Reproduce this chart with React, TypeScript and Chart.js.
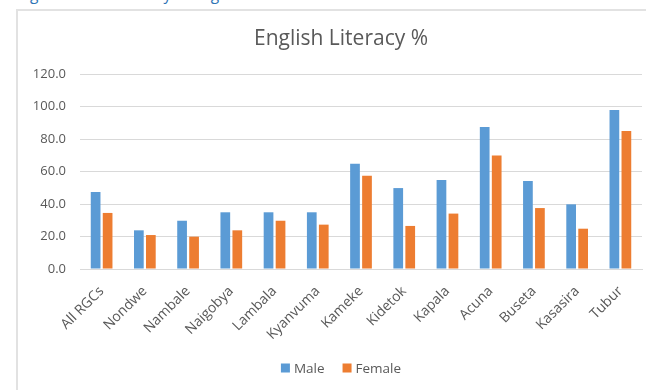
import React, { useEffect, useRef } from "react";
import { Chart, registerables } from "chart.js";

Chart.register(...registerables);

const caption = "Figure 3.2 Ed Literacy in English across the RGCs";
const chartTitle = "English Literacy %";
const categories = [
  "All RGCs", "Nondwe", "Nambale", "Naigobya", "Lambala", "Kyanvuma", "Kameke",
  "Kidetok", "Kapala", "Acuna", "Buseta", "Kasasira", "Tubur",
];
const maleValues = [47.4, 23.8, 29.7, 34.9, 34.9, 34.9, 64.8, 49.8, 54.8, 87.4, 54.2, 39.8, 97.8];
const femaleValues = [34.5, 20.9, 19.9, 23.8, 29.7, 27.3, 57.4, 26.5, 34.1, 69.9, 37.5, 24.8, 84.9];
const yTicks = [0, 20, 40, 60, 80, 100, 120];
const seriesLabels = ["Male", "Female"];
const seriesColors = ["#5B9BD5", "#ED7D31"];

const FONT = "'Open Sans', 'Noto Sans', sans-serif";
const TEXT = "#595959";

const overlayPlugin = {
  id: "overlayTitleLegend",
  afterDraw(chart: any) {
    const ctx = chart.ctx as CanvasRenderingContext2D;
    const cx = chart.width / 2;
    ctx.save();
    ctx.fillStyle = TEXT;
    ctx.font = `21px ${FONT}`;
    ctx.textAlign = "center";
    ctx.textBaseline = "alphabetic";
    ctx.fillText(chartTitle, cx, 36);

    ctx.font = `13.5px ${FONT}`;
    const box = 9, gap = 4, spacing = 18;
    const items = chart.data.datasets.map((d: any) => ({
      label: d.label as string,
      color: d.backgroundColor as string,
      w: ctx.measureText(d.label).width,
    }));
    const total = items.reduce((s: number, it: any) => s + box + gap + it.w, 0) + spacing * (items.length - 1);
    let x = cx - total / 2;
    const y = 359;
    ctx.textAlign = "left";
    ctx.textBaseline = "middle";
    for (const it of items) {
      ctx.fillStyle = it.color;
      ctx.fillRect(x, y - box / 2, box, box);
      ctx.fillStyle = TEXT;
      ctx.fillText(it.label, x + box + gap, y + 1);
      x += box + gap + it.w + spacing;
    }
    ctx.restore();
  },
};

export default function App() {
  const ref = useRef<HTMLCanvasElement | null>(null);

  useEffect(() => {
    if (!ref.current) return;
    const chart = new Chart(ref.current, {
      type: "bar",
      data: {
        labels: categories,
        datasets: [
          { label: seriesLabels[0], data: maleValues, backgroundColor: seriesColors[0], categoryPercentage: 0.555, barPercentage: 0.81 },
          { label: seriesLabels[1], data: femaleValues, backgroundColor: seriesColors[1], categoryPercentage: 0.555, barPercentage: 0.81 },
        ],
      },
      options: {
        animation: false,
        responsive: false,
        maintainAspectRatio: false,
        layout: { padding: { left: 0, right: 23, top: 65, bottom: 51 } },
        plugins: {
          legend: { display: false },
          title: { display: false },
          tooltip: { enabled: false },
        },
        scales: {
          x: {
            grid: { display: false, drawTicks: false },
            border: { display: true, color: "#D9D9D9", width: 1 },
            ticks: {
              color: TEXT,
              font: { family: FONT, size: 14 },
              maxRotation: 45,
              minRotation: 45,
              padding: 14,
              autoSkip: false,
            },
            afterFit: (s: any) => { s.height = 70; },
          },
          y: {
            min: 0,
            max: 120,
            grid: { color: "#D9D9D9", lineWidth: 1, drawTicks: false },
            border: { display: false },
            ticks: {
              color: TEXT,
              font: { family: FONT, size: 13 },
              padding: 14,
              callback: (v: any) => Number(v).toFixed(1),
            },
            afterBuildTicks: (s: any) => { s.ticks = yTicks.map((v) => ({ value: v })); },
            afterFit: (s: any) => { s.width = 63; },
          },
        },
      },
      plugins: [overlayPlugin],
    });
    return () => chart.destroy();
  }, []);

  return (
    <div style={{ position: "fixed", left: 0, top: 0, width: 646, height: 390, overflow: "hidden", background: "#fff" }}>
      <div
        style={{
          position: "absolute", left: 18, top: -12.6, fontFamily: FONT, fontSize: 15.5,
          lineHeight: "15.5px", color: "#2E74B5", whiteSpace: "nowrap",
        }}
      >
        {caption}
      </div>
      <div
        style={{
          position: "absolute", left: 16, top: 9, width: 700, height: 400,
          borderLeft: "2px solid #E2E2E2", borderTop: "2px solid #E2E2E2", boxSizing: "border-box",
        }}
      />
      <canvas ref={ref} width={648} height={381} style={{ position: "absolute", left: 17, top: 9, width: 648, height: 381 }} />
    </div>
  );
}
